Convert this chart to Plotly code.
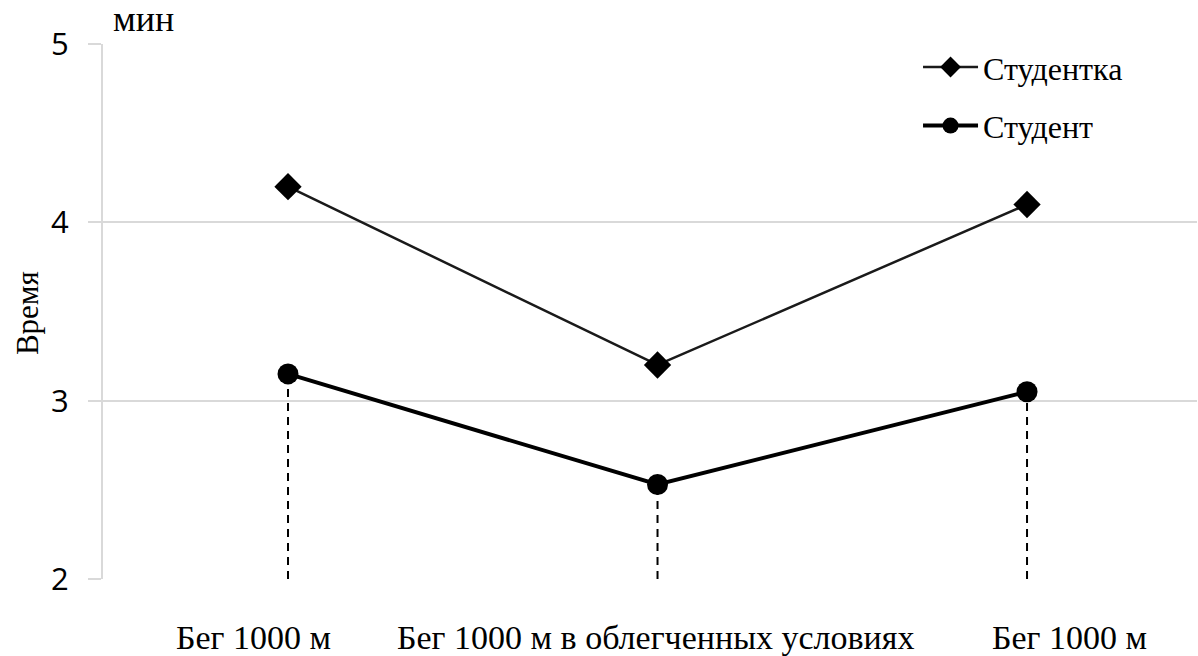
import plotly.graph_objects as go

# Categories (exercise) and times in minutes
categories = ["Бег 1000 м", "Бег 1000 м в облегченных условиях", "Бег 1000 м"]
x_pos = [0, 1, 2]
female_times = [4.2, 3.2, 4.1]
male_times = [3.15, 2.53, 3.05]
y_ticks = [2, 3, 4, 5]

# Horizontal offsets (px) of the category captions relative to their points
label_shift = [-35, -2, 42]

SERIF = "Liberation Serif"
SANS = "Open Sans"

fig = go.Figure()

# Dashed drop lines from each male point down to the bottom of the axis
for xv, yv in zip(x_pos, male_times):
    fig.add_trace(go.Scatter(
        x=[xv, xv], y=[y_ticks[0], yv], mode="lines",
        line=dict(color="black", width=2, dash="8px,6px"),
        showlegend=False, hoverinfo="skip",
    ))

fig.add_trace(go.Scatter(
    x=x_pos, y=female_times, name="Студентка", mode="lines+markers",
    line=dict(color="#1a1a1a", width=2.5),
    marker=dict(symbol="diamond", size=21, color="black"),
    legendgroup="f",
))
fig.add_trace(go.Scatter(
    x=x_pos, y=male_times, name="Студент", mode="lines+markers",
    line=dict(color="black", width=4),
    marker=dict(symbol="circle", size=21, color="black"),
    legendgroup="m",
))

annotations = [
    dict(text="мин", xref="paper", yref="paper", x=0.007, y=1.0,
         xanchor="left", yanchor="bottom", showarrow=False, yshift=3,
         font=dict(family=SERIF, size=36, color="black")),
    dict(text="Время", xref="paper", yref="paper", x=-0.0695, y=0.497,
         xanchor="center", yanchor="middle", showarrow=False, textangle=-90,
         font=dict(family=SERIF, size=31, color="black")),
]
for xv, lab, dx in zip(x_pos, categories, label_shift):
    annotations.append(dict(
        text=lab, x=xv, xref="x", y=0, yref="paper",
        xanchor="center", yanchor="top", showarrow=False,
        xshift=dx, yshift=-38,
        font=dict(family=SERIF, size=34, color="black"),
    ))

fig.update_layout(
    width=1198, height=656,
    margin=dict(l=103, r=1, t=44, b=77, autoexpand=False),
    paper_bgcolor="white", plot_bgcolor="white",
    showlegend=True,
    legend=dict(
        x=0.745, y=1.008, xanchor="left", yanchor="top",
        font=dict(family=SERIF, size=32, color="black"),
        bgcolor="rgba(0,0,0,0)", tracegroupgap=14,
        itemwidth=55,
    ),
    xaxis=dict(
        range=[-0.5007, 2.46], tickvals=x_pos, showticklabels=False,
        showgrid=False, zeroline=False, showline=False, automargin=False,
        ticks="",
    ),
    yaxis=dict(
        range=[2, 5], tickvals=y_ticks, ticktext=[str(v) for v in y_ticks],
        showgrid=True, gridcolor="#d9d9d9", gridwidth=2, automargin=False,
        zeroline=False, showline=True, linecolor="#d9d9d9", linewidth=2,
        ticks="outside", ticklen=13, tickcolor="#d9d9d9", tickwidth=2,
        ticklabelstandoff=13,
        tickfont=dict(family=SANS, size=31, color="black"),
    ),
    annotations=annotations,
)

fig.write_html("out.html")
